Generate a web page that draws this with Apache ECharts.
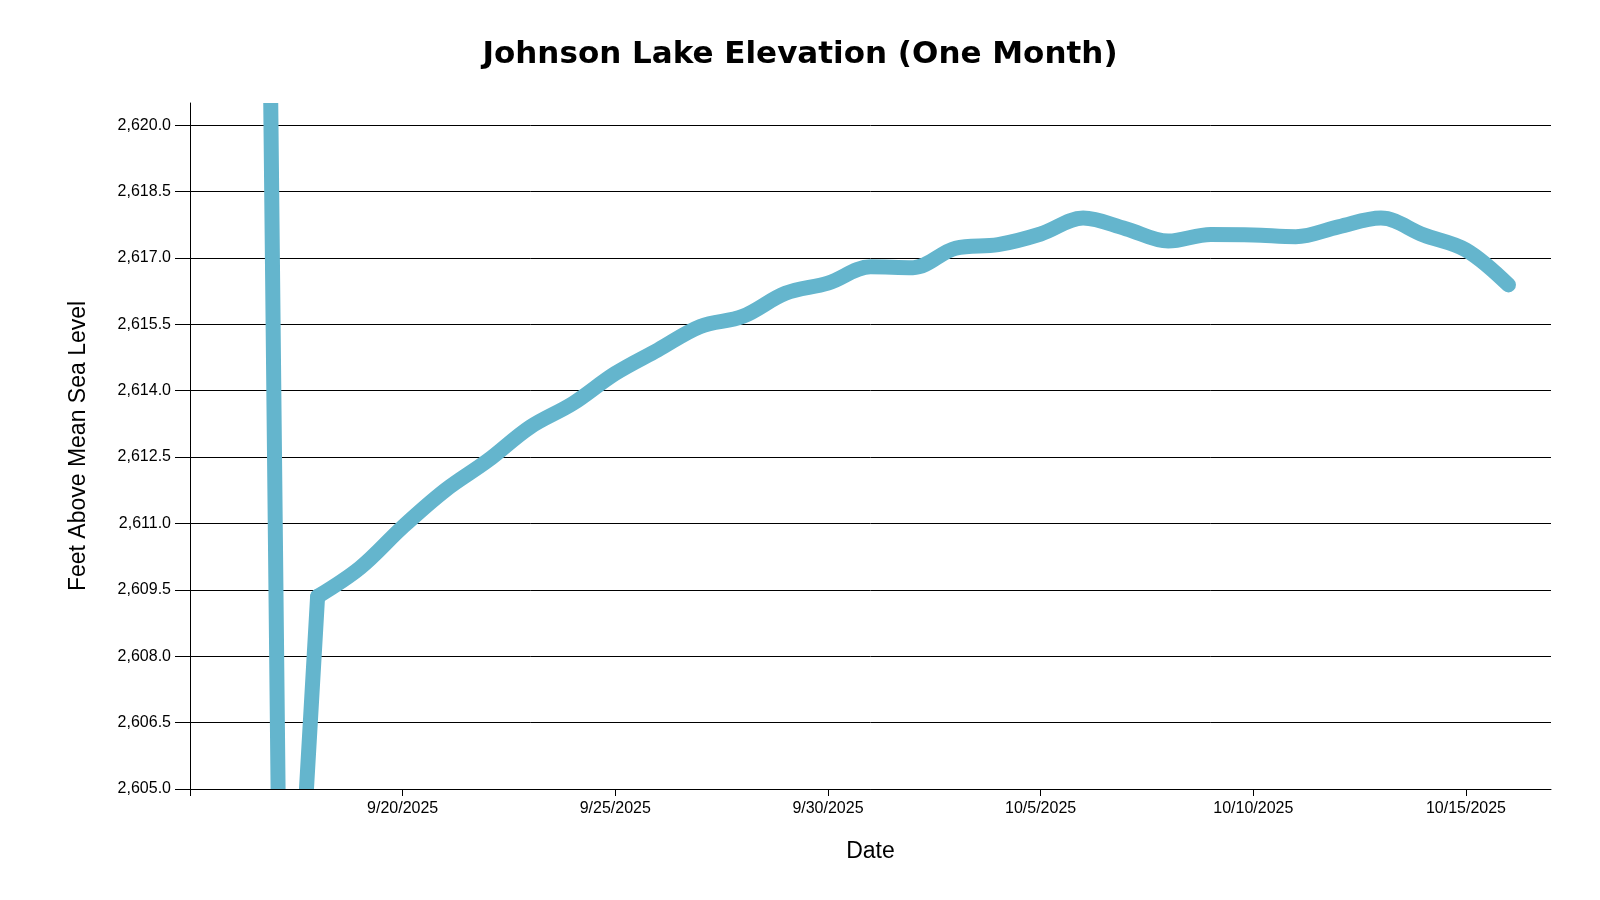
<!DOCTYPE html>
<html>
<head>
<meta charset="utf-8">
<script src="https://cdn.jsdelivr.net/npm/echarts@6/dist/echarts.min.js"></script>
<style>
html,body{margin:0;padding:0;background:#fff;}
#chart{width:1600px;height:900px;}
</style>
</head>
<body>
<div id="chart"></div>
<script>
// ---- data ----
const glitchTimes = ['2025-09-16 21:00', '2025-09-17 02:00', '2025-09-17 17:00', '2025-09-18 00:00'];
const glitchValues = [2622.6, 2603.9, 2604.5, 2609.35];

const dailyDates = [
  '2025-09-18','2025-09-19','2025-09-20','2025-09-21','2025-09-22','2025-09-23','2025-09-24',
  '2025-09-25','2025-09-26','2025-09-27','2025-09-28','2025-09-29','2025-09-30','2025-10-01',
  '2025-10-02','2025-10-03','2025-10-04','2025-10-05','2025-10-06','2025-10-07','2025-10-08',
  '2025-10-09','2025-10-10','2025-10-11','2025-10-12','2025-10-13','2025-10-14','2025-10-15',
  '2025-10-16'
];
const dailyValues = [
  2609.35, 2610.00, 2610.92, 2611.75, 2612.42, 2613.18, 2613.71,
  2614.39, 2614.92, 2615.45, 2615.68, 2616.20, 2616.43, 2616.80,
  2616.78, 2617.22, 2617.30, 2617.54, 2617.90, 2617.66, 2617.38,
  2617.53, 2617.52, 2617.48, 2617.70, 2617.90, 2617.52, 2617.18,
  2616.39
];

const yTickValues = [2605.0, 2606.5, 2608.0, 2609.5, 2611.0, 2612.5, 2614.0, 2615.5, 2617.0, 2618.5, 2620.0];
const xTickDates = ['2025-09-15', '2025-09-20', '2025-09-25', '2025-09-30', '2025-10-05', '2025-10-10', '2025-10-15'];
const xLabelDates = ['2025-09-20', '2025-09-25', '2025-09-30', '2025-10-05', '2025-10-10', '2025-10-15'];
const xMin = '2025-09-15 00:00';
const xMax = '2025-10-17 00:00';
const yMin = 2605.0, yMax = 2620.5;

// ---- helpers ----
function toTs(s) {
  const [d, t] = s.split(' ');
  const [y, m, dd] = d.split('-').map(Number);
  let h = 0, mi = 0;
  if (t) { [h, mi] = t.split(':').map(Number); }
  return new Date(y, m - 1, dd, h, mi).getTime();
}
function fmtNum(v) {
  const s = v.toFixed(1);
  const [i, f] = s.split('.');
  return i.replace(/\B(?=(\d{3})+(?!\d))/g, ',') + '.' + f;
}
function fmtDate(v) {
  const d = new Date(v);
  return (d.getMonth() + 1) + '/' + d.getDate() + '/' + d.getFullYear();
}

const lineColor = '#64b5cd';
const lineStyle = { color: lineColor, width: 15, cap: 'round', join: 'round' };

const G = { left: 190, right: 49, top: 103, bottom: 111 };

const chart = echarts.init(document.getElementById('chart'), null, { renderer: 'canvas' });
chart.setOption({
  animation: false,
  backgroundColor: '#ffffff',
  title: {
    text: 'Johnson Lake Elevation (One Month)',
    left: 'center',
    top: 34,
    textStyle: { fontFamily: 'DejaVu Sans', fontWeight: 'bold', fontSize: 31, color: '#000' }
  },
  grid: { left: G.left, right: G.right, top: G.top, bottom: G.bottom, containLabel: false, outerBoundsMode: 'none' },
  xAxis: {
    type: 'value',
    z: 60,
    min: toTs(xMin),
    max: toTs(xMax),
    name: 'Date',
    nameLocation: 'middle',
    nameGap: 51,
    nameTextStyle: { fontFamily: 'Liberation Sans', fontSize: 23, color: '#000' },
    axisLine: { show: true, onZero: false, lineStyle: { color: '#000', width: 1 } },
    axisTick: { show: true, length: 7, lineStyle: { color: '#000' }, customValues: xTickDates.map(toTs) },
    axisLabel: {
      customValues: xLabelDates.map(toTs),
      formatter: fmtDate,
      fontFamily: 'Liberation Sans', fontSize: 16, color: '#000', margin: 12
    },
    splitLine: { show: false }
  },
  yAxis: {
    type: 'value',
    min: yMin,
    max: yMax,
    name: 'Feet Above Mean Sea Level',
    nameLocation: 'middle',
    nameGap: 100,
    nameTextStyle: { fontFamily: 'Liberation Sans', fontSize: 23, color: '#000' },
    axisLine: { show: true, onZero: false, lineStyle: { color: '#000', width: 1 } },
    axisTick: { show: true, length: 15, lineStyle: { color: '#000' }, customValues: yTickValues },
    axisLabel: {
      customValues: yTickValues,
      formatter: fmtNum,
      fontFamily: 'Liberation Sans', fontSize: 16, color: '#000', margin: 19
    },
    splitLine: { show: true, lineStyle: { color: '#000', width: 1 } }
  },
  // white masks so the thick line is cut exactly at the plot edges
  graphic: [
    { type: 'rect', z: 50, silent: true, shape: { x: G.left + 1, y: 80, width: 1600 - G.left - G.right, height: G.top - 80 }, style: { fill: '#fff' } },
    { type: 'rect', z: 50, silent: true, shape: { x: 235, y: 900 - G.bottom, width: 110, height: 12 }, style: { fill: '#fff' } }
  ],
  series: [
    {
      type: 'line',
      data: glitchTimes.map((t, i) => [toTs(t), glitchValues[i]]),
      showSymbol: false,
      symbol: 'none',
      smooth: false,
      clip: true,
      lineStyle: lineStyle
    },
    {
      type: 'line',
      data: dailyDates.map((t, i) => [toTs(t), dailyValues[i]]),
      showSymbol: false,
      symbol: 'none',
      smooth: 0.35,
      clip: true,
      lineStyle: lineStyle
    }
  ]
});
</script>
</body>
</html>
